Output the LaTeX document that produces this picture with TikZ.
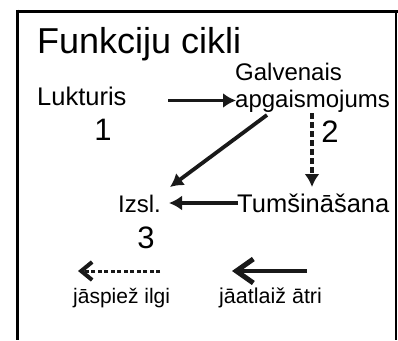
\documentclass[tikz,border=0pt]{standalone}
\usepackage{fontspec}
\setmainfont{Liberation Sans}
\usetikzlibrary{arrows.meta,calc}
\begin{document}
\begin{tikzpicture}[x=1pt,y=-1pt,
  txt/.style={inner sep=0pt,anchor=base west},
  num/.style={inner sep=0pt,anchor=base,font=\fontsize{31}{34}\selectfont},
  arr/.style={line width=3.8pt,draw=black!90,-{Latex[length=13pt,width=15pt]}},
  dsh/.style={arr,dash pattern=on 6pt off 3pt},
  barb/.style={line width=3.5pt,draw=black!90}]
\useasboundingbox (0,0) rectangle (398,340);
% frame
\draw[line width=3pt] (16,11) -- (398,11);
\draw[line width=3pt] (17.5,9.5) -- (17.5,340);
\draw[line width=1.5pt] (396,11) -- (396,340);
% texts
\node[txt,font=\fontsize{36}{40}\selectfont] (title) at (37,53) {Funkciju cikli};
\node[txt,font=\fontsize{25.5}{28}\selectfont] (luk) at (37,105) {Lukturis};
\node[num] (n1) at (103,140) {1};
\node[txt,font=\fontsize{24}{27}\selectfont] (gal1) at (235,80) {Galvenais};
\node[txt,font=\fontsize{24}{27}\selectfont] (gal2) at (235,107) {apgaismojums};
\node[num] (n2) at (330,142) {2};
\node[txt,font=\fontsize{24}{27}\selectfont] (izsl) at (118,212) {Izsl.};
\node[txt,font=\fontsize{25.5}{28}\selectfont] (tum) at (237,212) {Tumšināšana};
\node[num] (n3) at (146,248) {3};
\node[txt,font=\fontsize{21}{24}\selectfont] (jas) at (73,303) {jāspiež ilgi};
\node[txt,font=\fontsize{21.5}{24}\selectfont] (jaat) at (219,303) {jāatlaiž ātri};
% arrows
\draw[arr] ($(luk.base west)+(131,-4.5)$) -- ($(gal2.base west)+(1,-6.5)$);
\draw[arr] ($(gal2.base west)+(32,8)$) -- ($(izsl.base west)+(52,-25)$);
\draw[dsh,line width=3.3pt] ($(gal2.base west)+(77,6)$) -- ($(tum.base west)+(75,-25)$);
\draw[arr] ($(tum.base west)+(1,-9)$) -- ($(izsl.base west)+(51,-9)$);
\draw[barb,line width=3pt,dash pattern=on 4pt off 2.5pt,-{Straight Barb[length=11pt,width=18pt,line width=4pt]}] ($(jas.base west)+(87,-32)$) -- ($(jas.base west)+(5,-32)$);
\draw[barb,line width=4.5pt,-{Straight Barb[length=17pt,width=24pt,line width=5pt]}] ($(jaat.base west)+(88,-32)$) -- ($(jaat.base west)+(13,-32)$);
\end{tikzpicture}
\end{document}
